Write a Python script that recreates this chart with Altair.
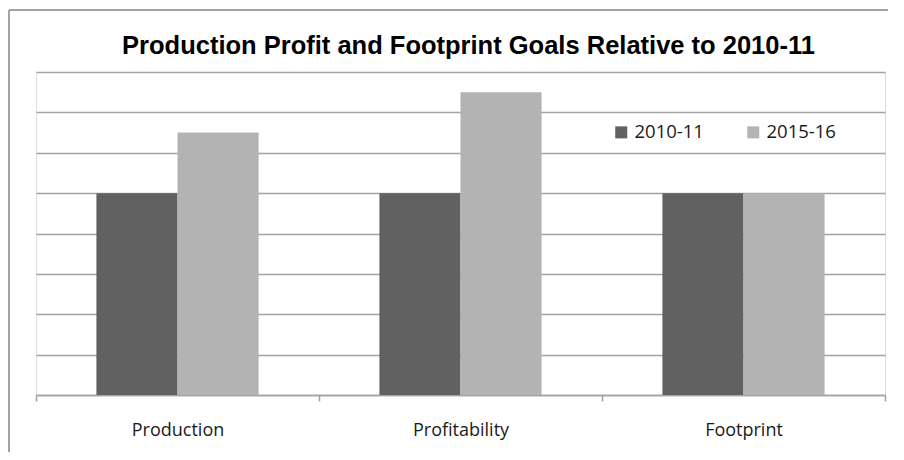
import altair as alt
import pandas as pd

categories = ["Production", "Profitability", "Footprint"]
series = ["2010-11", "2015-16"]
values_2010 = [100, 100, 100]
values_2015 = [130, 150, 100]
grid_values = [0, 20, 40, 60, 80, 100, 120, 140, 160]
title_text = "Production Profit and Footprint Goals Relative to 2010-11"

rows = []
for c, a, b in zip(categories, values_2010, values_2015):
    rows.append({"category": c, "series": series[0], "value": a})
    rows.append({"category": c, "series": series[1], "value": b})
df = pd.DataFrame(rows)

W, H = 849, 323
GRAY = "#a3a3a3"

bars = alt.Chart(df).mark_bar().encode(
    x=alt.X("category:N", sort=categories, title=None,
            scale=alt.Scale(paddingInner=0, paddingOuter=0),
            axis=alt.Axis(labelAngle=0, labelFont="Open Sans", labelFontSize=18,
                          labelColor="#1a1a1a", labelPadding=20, tickBand="extent",
                          tickSize=6, tickColor=GRAY, tickWidth=1.5,
                          domainColor=GRAY, domainWidth=1.5, grid=False)),
    xOffset=alt.XOffset("series:N", sort=series,
                        scale=alt.Scale(paddingInner=0, paddingOuter=0.745)),
    y=alt.Y("value:Q", title=None, scale=alt.Scale(domain=[0, 160], nice=False),
            axis=alt.Axis(values=grid_values, labels=False, ticks=False, domain=False,
                          grid=True, gridColor=GRAY, gridWidth=1.5)),
    color=alt.Color("series:N", sort=series,
                    scale=alt.Scale(domain=series, range=["#616161", "#b3b3b3"]),
                    legend=alt.Legend(title=None, orient="none", legendX=576, legendY=51,
                                      direction="horizontal", columns=2, columnPadding=40,
                                      symbolType="square", symbolSize=144, symbolStrokeWidth=0,
                                      labelFont="Open Sans", labelFontSize=18.5,
                                      labelColor="#1a1a1a", labelOffset=4)),
)

frame_left = alt.Chart(df).mark_rule(color=GRAY, strokeWidth=1.5).encode(
    x=alt.value(-27), y=alt.value(-62), y2=alt.value(H + 80))
frame_top = alt.Chart(df).mark_rule(color=GRAY, strokeWidth=1.5).encode(
    x=alt.value(-27), x2=alt.value(W + 40), y=alt.value(-62))

title = alt.Chart(pd.DataFrame({"t": [title_text]})).mark_text(
    font="Liberation Sans", fontSize=25.5, fontWeight="bold", color="#000000",
    align="center", baseline="alphabetic").encode(
    text="t:N", x=alt.value(W / 2 + 8), y=alt.value(-18))

chart = alt.layer(frame_left, frame_top, bars, title).properties(
    width=W, height=H,
    autosize=alt.AutoSizeParams(type="none"),
    padding={"left": 28, "top": 64, "right": 3, "bottom": 57},
).configure_view(stroke=None).configure(background="white")

chart.save("out.html", embed_options={"renderer": "svg", "actions": False})
